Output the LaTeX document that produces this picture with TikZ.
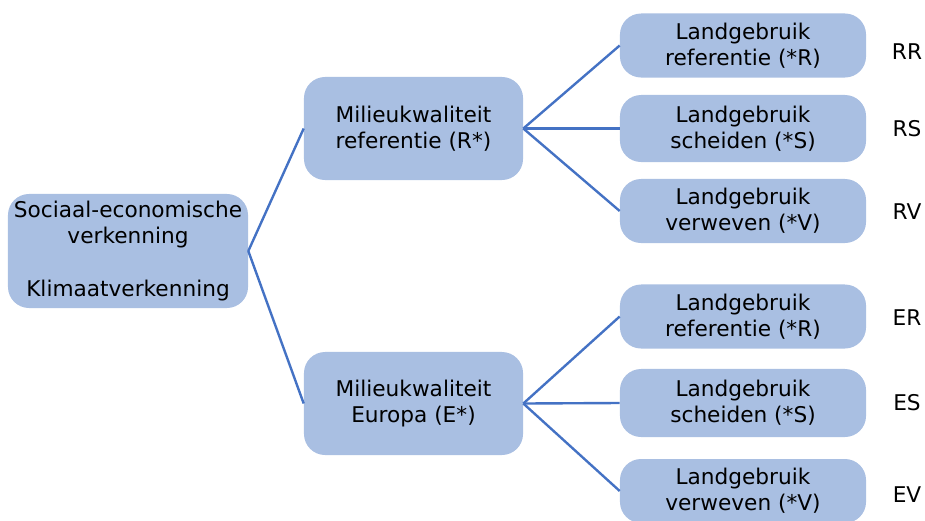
\documentclass[tikz,border=0pt]{standalone}
\usepackage{fontspec}
\setmainfont{DejaVu Sans}
\usepackage{tikz}
\definecolor{boxblue}{HTML}{A9BFE2}
\definecolor{lineblue}{HTML}{4472C4}

\begin{document}
\begin{tikzpicture}[x=0.025cm,y=-0.025cm]
	\useasboundingbox (0,0) rectangle (925,520);
		\begin{scope}[every node/.style={rounded corners=15,fill=boxblue,align=center,
		              inner sep=0pt,font=\fontsize{15.4}{18.5}\selectfont}]
    \node[minimum width=6cm,minimum height=2.85cm] (root) at (128,251) {Sociaal-economische\\verkenning\\[18.5pt]Klimaatverkenning};
    \node[minimum width=5.475cm,minimum height=2.575cm] (R) at (413.5,128.5) {Milieukwaliteit\\referentie (R*)};
    \node[minimum width=5.475cm,minimum height=2.575cm] (E) at (413.5,403.5) {Milieukwaliteit\\Europa (E*)};
    \node[minimum width=6.15cm,minimum height=1.6cm] (RR) at (743,45.5) {Landgebruik\\referentie (*R)};
    \node[minimum width=6.15cm,minimum height=1.675cm] (RS) at (743,128.5) {Landgebruik\\scheiden (*S)};
    \node[minimum width=6.15cm,minimum height=1.6cm] (RV) at (743,211) {Landgebruik\\verweven (*V)};
    \node[minimum width=6.15cm,minimum height=1.6cm] (ER) at (743,316.5) {Landgebruik\\referentie (*R)};
    \node[minimum width=6.15cm,minimum height=1.7cm] (ES) at (743,403) {Landgebruik\\scheiden (*S)};
    \node[minimum width=6.15cm,minimum height=1.6cm] (EV) at (743,491) {Landgebruik\\verweven (*V)};
	\end{scope}

	\begin{scope}[every node/.style={font=\fontsize{15.4}{18.5}\selectfont}]
    \node (lRR) at (907,52) {RR};
    \node (lRS) at (907,129) {RS};
    \node (lRV) at (907,212) {RV};
    \node (lER) at (907,318) {ER};
    \node (lES) at (907,403) {ES};
    \node (lEV) at (907,495) {EV};
	\end{scope}

	\begin{scope}[every path/.style={draw=lineblue,line width=1.7pt}]
    \path (root.east) -- (R.west);
    \path (root.east) -- (E.west);
    \path (R.east) -- (RR.west);
    \path (R.east) -- (RS.west);
    \path (R.east) -- (RV.west);
    \path (E.east) -- (ER.west);
    \path (E.east) -- (ES.west);
    \path (E.east) -- (EV.west);
\end{scope}
\end{tikzpicture}
\end{document}
